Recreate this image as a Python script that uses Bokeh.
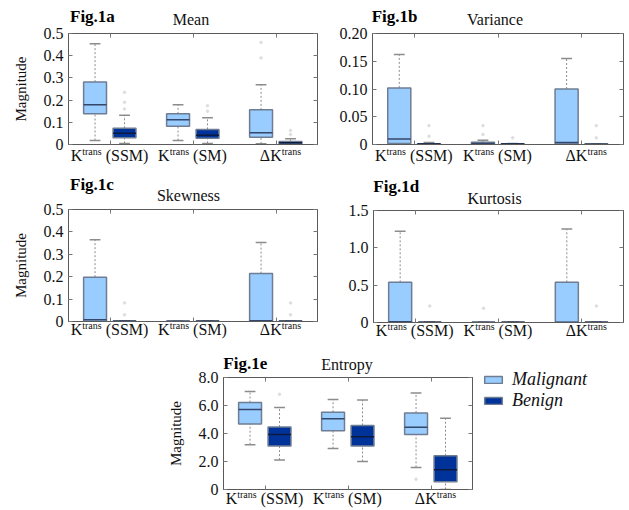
from bokeh.plotting import figure
from bokeh.models import (Range1d, FixedTicker, LinearAxis, Legend,
                          LegendItem, ColumnDataSource, Spacer, Div)
from bokeh.layouts import column, row
from bokeh.embed import file_html
from bokeh.resources import INLINE

# ---------------- data ----------------
groups = [1, 2, 3]
xlabel_main = ["K", "K", "\u0394K"]
xlabel_sup = ["trans", "trans", "trans"]
xlabel_tail = ["(SSM)", "(SM)", ""]
series_names = ["Malignant", "Benign"]

# five-number rows per group: (whisker_low, q1, median, q3, whisker_high)
mean_malignant = [(0.018, 0.138, 0.179, 0.281, 0.454),
                  (0.018, 0.082, 0.111, 0.138, 0.179),
                  (0.003, 0.033, 0.053, 0.156, 0.269)]
mean_benign = [(0.005, 0.030, 0.051, 0.073, 0.132),
               (0.005, 0.028, 0.042, 0.068, 0.120),
               (0.000, 0.002, 0.008, 0.014, 0.026)]
mean_out_malignant = [[], [], [0.39, 0.46]]
mean_out_benign = [[0.16, 0.19, 0.235], [0.15, 0.175], [0.045, 0.063]]

variance_malignant = [(0.000, 0.002, 0.010, 0.102, 0.162),
                      (0.0005, 0.001, 0.002, 0.004, 0.0077),
                      (0.000, 0.001, 0.0036, 0.100, 0.155)]
variance_benign = [(0.000, 0.0005, 0.001, 0.0015, 0.0036),
                   (0.000, 0.0005, 0.001, 0.0015, 0.002),
                   (0.000, 0.0002, 0.0005, 0.0008, 0.001)]
variance_out_malignant = [[], [0.018, 0.034], []]
variance_out_benign = [[0.015, 0.034], [0.012], [0.012, 0.034]]

skewness_malignant = [(0.000, 0.000, 0.008, 0.198, 0.365),
                      (0.000, 0.000, 0.001, 0.002, 0.003),
                      (0.000, 0.000, 0.003, 0.214, 0.353)]
skewness_benign = [(0.000, 0.000, 0.001, 0.002, 0.003),
                   (0.000, 0.000, 0.001, 0.002, 0.003),
                   (0.000, 0.000, 0.001, 0.002, 0.003)]
skewness_out_malignant = [[], [], []]
skewness_out_benign = [[0.03, 0.083], [], [0.03, 0.083]]

kurtosis_malignant = [(0.000, 0.000, 0.010, 0.538, 1.221),
                      (0.000, 0.000, 0.002, 0.005, 0.008),
                      (0.000, 0.000, 0.005, 0.538, 1.252)]
kurtosis_benign = [(0.000, 0.000, 0.002, 0.005, 0.008),
                   (0.000, 0.000, 0.002, 0.005, 0.008),
                   (0.000, 0.000, 0.002, 0.005, 0.008)]
kurtosis_out_malignant = [[], [0.19], []]
kurtosis_out_benign = [[0.22], [], [0.22]]

entropy_malignant = [(3.20, 4.68, 5.71, 6.21, 7.00),
                     (2.92, 4.20, 5.06, 5.52, 6.42),
                     (1.58, 3.92, 4.44, 5.47, 6.90)]
entropy_benign = [(2.10, 3.10, 3.92, 4.46, 5.85),
                  (2.00, 3.10, 3.77, 4.58, 6.40),
                  (0.00, 0.55, 1.41, 2.41, 5.09)]
entropy_out_malignant = [[], [], [0.74]]
entropy_out_benign = [[6.8], [], []]

ticks_mean = [0, 0.1, 0.2, 0.3, 0.4, 0.5]
ticklabels_mean = ["0", "0.1", "0.2", "0.3", "0.4", "0.5"]
ticks_variance = [0, 0.05, 0.10, 0.15, 0.20]
ticklabels_variance = ["0", "0.05", "0.10", "0.15", "0.20"]
ticks_skewness = [0, 0.1, 0.2, 0.3, 0.4, 0.5]
ticklabels_skewness = ["0", "0.1", "0.2", "0.3", "0.4", "0.5"]
ticks_kurtosis = [0, 0.5, 1.0, 1.5]
ticklabels_kurtosis = ["0", "0.5", "1.0", "1.5"]
ticks_entropy = [0, 2, 4, 6, 8]
ticklabels_entropy = ["0", "2.0", "4.0", "6.0", "8.0"]

# ---------------- style ----------------
FONT = "Liberation Serif"
CSS_FONT = "font-family:Liberation Serif, serif;"
DIV_CSS = [":host, :host * { font-family: 'Liberation Serif', 'DejaVu Serif', serif !important; }"]
MAL_FILL = "#99ccff"
BEN_FILL = "#003399"
MAL_MED = "#34466a"
BEN_MED = "#0b1a3e"
BOX_LINE = "#6f7d92"
WHISK = "#8c8c8c"
FRAME = "#5a5a5a"
OUT_COL = "#dedede"
OFF_M, OFF_B = -0.18, 0.175
BOX_W = 0.276
CAP_W = 0.13
X0, X1 = 0.5, 3.5


def style_axis(ax, ticks, labels=None):
    ax.ticker = FixedTicker(ticks=ticks)
    ax.major_tick_in = 4
    ax.major_tick_out = 0
    ax.minor_tick_line_color = None
    ax.major_tick_line_color = "#777777"
    ax.axis_line_color = FRAME
    if labels:
        ax.major_label_overrides = {t: labels[i] for i, t in enumerate(ticks)}
        ax.major_label_text_font = FONT
        ax.major_label_text_font_size = "16px"
        ax.major_label_text_color = "#111111"
        ax.major_label_standoff = 5
    else:
        ax.major_label_text_color = None
        ax.major_label_text_font_size = "1px"
        ax.major_label_standoff = 0


def box_renderers(p, data, outs, off, fill, medc):
    xs = [g + off for g in groups]
    src = ColumnDataSource(dict(
        x=xs,
        x0=[x - BOX_W / 2 for x in xs], x1=[x + BOX_W / 2 for x in xs],
        c0=[x - CAP_W / 2 for x in xs], c1=[x + CAP_W / 2 for x in xs],
        lo=[r[0] for r in data], q1=[r[1] for r in data],
        med=[r[2] for r in data], q3=[r[3] for r in data],
        hi=[r[4] for r in data]))
    ox = [xs[i] for i in range(len(groups)) for _ in outs[i]]
    oy = [v for i in range(len(groups)) for v in outs[i]]
    p.scatter(ox, oy, size=2.5, color=OUT_COL)
    p.segment("x", "q3", "x", "hi", source=src, line_color=WHISK,
              line_dash="2 2", line_width=1)
    p.segment("x", "lo", "x", "q1", source=src, line_color=WHISK,
              line_dash="2 2", line_width=1)
    p.segment("c0", "hi", "c1", "hi", source=src, line_color=WHISK, line_width=1.5)
    p.segment("c0", "lo", "c1", "lo", source=src, line_color=WHISK, line_width=1.5)
    r = p.vbar(x="x", width=BOX_W, bottom="q1", top="q3", source=src,
               fill_color=fill, line_color=BOX_LINE, line_width=1.5)
    p.segment("x0", "med", "x1", "med", source=src, line_color=medc, line_width=1.5)
    return r


def make_fig(mal, ben, mal_out, ben_out, yend, yticks, ylabels, w, fw, fh,
             bl, bt, bb, ylab):
    br = w - bl - fw
    p = figure(width=w, height=bt + fh + bb, x_range=Range1d(X0, X1),
               y_range=Range1d(0, yend), output_backend="svg",
               toolbar_location=None, min_border_left=bl, min_border_right=br,
               min_border_top=bt, min_border_bottom=bb, margin=0)
    p.xgrid.visible = False
    p.ygrid.visible = False
    p.outline_line_color = FRAME
    p.outline_line_width = 1
    p.border_fill_alpha = 0
    p.background_fill_color = "white"

    style_axis(p.xaxis[0], groups)
    style_axis(p.yaxis[0], yticks, ylabels)
    if ylab:
        p.yaxis[0].axis_label = ylab
        p.yaxis[0].axis_label_text_font = FONT
        p.yaxis[0].axis_label_text_font_style = "normal"
        p.yaxis[0].axis_label_text_font_size = "15px"
        p.yaxis[0].axis_label_text_color = "#111111"
        p.yaxis[0].axis_label_standoff = 12
    top = LinearAxis()
    style_axis(top, groups)
    p.add_layout(top, "above")
    right = LinearAxis()
    style_axis(right, yticks)
    p.add_layout(right, "right")

    box_renderers(p, mal, mal_out, OFF_M, MAL_FILL, MAL_MED)
    box_renderers(p, ben, ben_out, OFF_B, BEN_FILL, BEN_MED)
    return p


def header(w, h, fig_text, fig_left, fig_base, title_text, title_cx, title_base):
    html = (
        f'<div style="position:relative;width:{w}px;height:{h}px;{CSS_FONT}">'
        f'<span style="position:absolute;left:{fig_left}px;top:{fig_base - 14.3:.1f}px;{CSS_FONT}'
        f'font-size:17px;line-height:17px;font-weight:bold;white-space:nowrap;color:#000;">{fig_text}</span>'
        f'<span style="position:absolute;left:{title_cx}px;top:{title_base - 13.4:.1f}px;{CSS_FONT}'
        f'transform:translateX(-50%);font-size:16px;line-height:16px;white-space:nowrap;'
        f'color:#111;">{title_text}</span></div>')
    return Div(text=html, width=w, height=h, margin=0, stylesheets=DIV_CSS,
               styles={"overflow": "visible", "font-family": "Liberation Serif, serif"})


def footer(w, h, frame_left, frame_w, base):
    spans = []
    for i, g in enumerate(groups):
        cx = frame_left + frame_w * (g - X0) / (X1 - X0) + (5 if not xlabel_tail[i] else 0)
        tail = (" " + xlabel_tail[i]) if xlabel_tail[i] else ""
        spans.append(
            f'<span style="position:absolute;left:{cx:.1f}px;top:{base - 10.4:.1f}px;{CSS_FONT}'
            f'transform:translateX(-50%);font-size:16px;line-height:10px;white-space:nowrap;color:#111;">'
            f'{xlabel_main[i]}<span style="font-size:10px;position:relative;top:-6px;">'
            f'{xlabel_sup[i]}</span>{tail}</span>')
    html = (f'<div style="position:relative;width:{w}px;height:{h}px;{CSS_FONT}">'
            + "".join(spans) + '</div>')
    return Div(text=html, width=w, height=h, margin=0, stylesheets=DIV_CSS,
               styles={"overflow": "visible", "font-family": "Liberation Serif, serif"})


# ---- row 1 (y 0..172)
pa = make_fig(mean_malignant, mean_benign, mean_out_malignant, mean_out_benign,
              0.5, ticks_mean, ticklabels_mean, 328, 249, 111, 68, 9, 9, "Magnitude")
col_a = column(header(328, 24, "Fig.1a", 70, 22.3, "Mean", 191, 25.6), pa,
               footer(328, 19, 68, 249, 8.7), spacing=0)

pb = make_fig(variance_malignant, variance_benign, variance_out_malignant,
              variance_out_benign, 0.20, ticks_variance, ticklabels_variance,
              297, 251, 111, 44, 9, 9, None)
col_b = column(header(297, 24, "Fig.1b", 43.7, 22.3, "Variance", 167, 25.6), pb,
               footer(297, 19, 44, 251, 8.7), spacing=0)

# ---- row 2 (y 172..340)
pc = make_fig(skewness_malignant, skewness_benign, skewness_out_malignant,
              skewness_out_benign, 0.5, ticks_skewness, ticklabels_skewness,
              328, 249, 112, 68, 9, 9, "Magnitude")
col_c = column(header(328, 28, "Fig.1c", 70, 18.6, "Skewness", 188.5, 29.5), pc,
               footer(328, 10, 68, 249, 3), spacing=0)

pd_ = make_fig(kurtosis_malignant, kurtosis_benign, kurtosis_out_malignant,
               kurtosis_out_benign, 1.5, ticks_kurtosis, ticklabels_kurtosis,
               297, 250, 112, 45, 10, 8, None)
col_d = column(header(297, 28, "Fig.1d", 45.3, 20.3, "Kurtosis", 166.5, 32), pd_,
               footer(297, 10, 45, 250, 4), spacing=0)

# ---- row 3 (y 340..510)
pe = make_fig(entropy_malignant, entropy_benign, entropy_out_malignant,
              entropy_out_benign, 8.0, ticks_entropy, ticklabels_entropy,
              322, 249, 112, 71, 9, 9, "Magnitude")
col_e = column(header(322, 28, "Fig.1e", 71.3, 29, "Entropy", 195, 30.6), pe,
               footer(322, 12, 71, 249, 6), spacing=0)

# legend panel to the right of Fig.1e (hidden copies of the Entropy boxes
# supply the legend swatches)
pl = figure(width=155, height=170, x_range=Range1d(X0, X1), y_range=Range1d(0, 8.0),
            output_backend="svg", toolbar_location=None, min_border=0, margin=0,
            x_axis_location=None, y_axis_location=None)
pl.xgrid.visible = False
pl.ygrid.visible = False
pl.outline_line_color = None
pl.border_fill_alpha = 0
pl.background_fill_alpha = 0
leg_m = pl.vbar(x=[g + OFF_M for g in groups], width=BOX_W,
                bottom=[r[1] for r in entropy_malignant], top=[r[3] for r in entropy_malignant],
                fill_color=MAL_FILL, line_color=BOX_LINE, line_width=1.5, visible=False)
leg_b = pl.vbar(x=[g + OFF_B for g in groups], width=BOX_W,
                bottom=[r[1] for r in entropy_benign], top=[r[3] for r in entropy_benign],
                fill_color=BEN_FILL, line_color=BOX_LINE, line_width=1.5, visible=False)
legend = Legend(items=[LegendItem(label=series_names[0], renderers=[leg_m]),
                       LegendItem(label=series_names[1], renderers=[leg_b])],
                location=(8, 99), glyph_width=22, glyph_height=9,
                label_standoff=8, label_text_font=FONT,
                label_text_font_style="italic", label_text_font_size="18px",
                label_text_color="#111111", inactive_fill_alpha=0,
                label_height=20, spacing=0, padding=0, margin=0,
                border_line_color=None, background_fill_alpha=0)
pl.add_layout(legend)

layout = column(row(col_a, col_b, spacing=0),
                row(col_c, col_d, spacing=0),
                row(Spacer(width=152, height=170, margin=0), col_e, pl, spacing=0),
                spacing=0)

open("out.html", "w").write(file_html(layout, INLINE))
